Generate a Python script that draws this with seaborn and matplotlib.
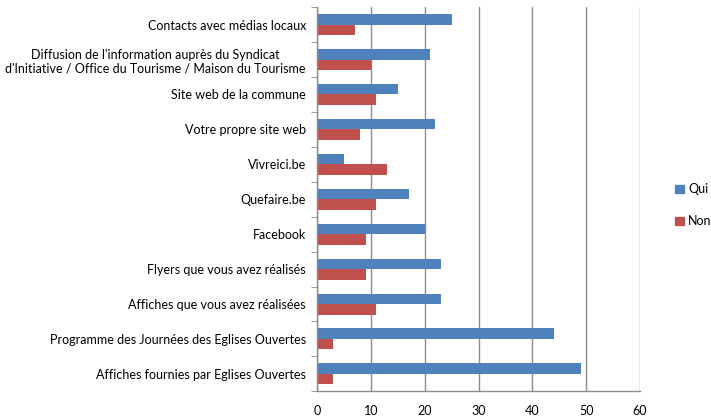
import numpy as np, pandas as pd
from matplotlib import pyplot as plt
from matplotlib.ticker import FixedLocator, NullFormatter
import seaborn as sns

# Data (top to bottom)
categories = [
    "Contacts avec médias locaux",
    "Diffusion de l'information auprès du Syndicat\nd'Initiative / Office du Tourisme / Maison du Tourisme",
    "Site web de la commune",
    "Votre propre site web",
    "Vivreici.be",
    "Quefaire.be",
    "Facebook",
    "Flyers que vous avez réalisés",
    "Affiches que vous avez réalisées",
    "Programme des Journées des Eglises Ouvertes",
    "Affiches fournies par Eglises Ouvertes",
]
qui = [25, 21, 15, 22, 5, 17, 20, 23, 23, 44, 49]
non = [7, 10, 11, 8, 13, 11, 9, 9, 11, 3, 3]
series = ["Qui", "Non"]

df = pd.DataFrame({"categorie": categories, "Qui": qui, "Non": non})
df = df.melt(id_vars="categorie", var_name="reponse", value_name="n")

sns.set_style("white")
plt.rcParams["font.family"] = ["Lato", "DejaVu Sans"]
plt.rcParams["text.color"] = "black"

fig, ax = plt.subplots(figsize=(7.11, 4.19), dpi=100)
fig.subplots_adjust(left=0.446, right=0.900, top=0.983, bottom=0.066)

sns.barplot(
    data=df,
    y="categorie",
    x="n",
    hue="reponse",
    hue_order=series,
    order=categories,
    palette={"Qui": "#4F81BD", "Non": "#C0504D"},
    saturation=1,
    orient="h",
    width=0.6,
    dodge=True,
    linewidth=0,
    ax=ax,
    legend=False,
)

# Axes
ax.set_xlim(0, 60)
ax.set_ylim(len(categories) - 0.5, -0.5)
ax.set_xticks(np.arange(0, 61, 10))
ax.xaxis.grid(True, color="#8c8c8c", linewidth=1)
ax.set_axisbelow(True)
ax.set_xlabel("")
ax.set_ylabel("")

for side in ["top", "right"]:
    ax.spines[side].set_visible(False)
for side in ["left", "bottom"]:
    ax.spines[side].set_color("#8c8c8c")
    ax.spines[side].set_linewidth(1)

ax.tick_params(axis="x", which="major", length=4, color="#8c8c8c",
               labelcolor="black", labelsize=9, pad=6)
ax.tick_params(axis="y", which="major", length=0, labelcolor="black", labelsize=9, pad=8)
ax.yaxis.set_minor_locator(FixedLocator(np.arange(-0.5, len(categories), 1)))
ax.yaxis.set_minor_formatter(NullFormatter())
ax.tick_params(axis="y", which="minor", length=4, color="#8c8c8c", left=True)
for lab in ax.get_yticklabels():
    lab.set_horizontalalignment("right")
    lab.set_multialignment("center")

# Legend
handles = [plt.Rectangle((0, 0), 1, 1, color=c) for c in ["#4F81BD", "#C0504D"]]
fig.legend(
    handles,
    series,
    loc="center left",
    bbox_to_anchor=(0.943, 0.51),
    frameon=False,
    fontsize=9,
    handlelength=0.7,
    handleheight=0.7,
    handletextpad=0.3,
    labelspacing=1.6,
    borderaxespad=0,
)

plt.savefig("out.png", dpi=100)
